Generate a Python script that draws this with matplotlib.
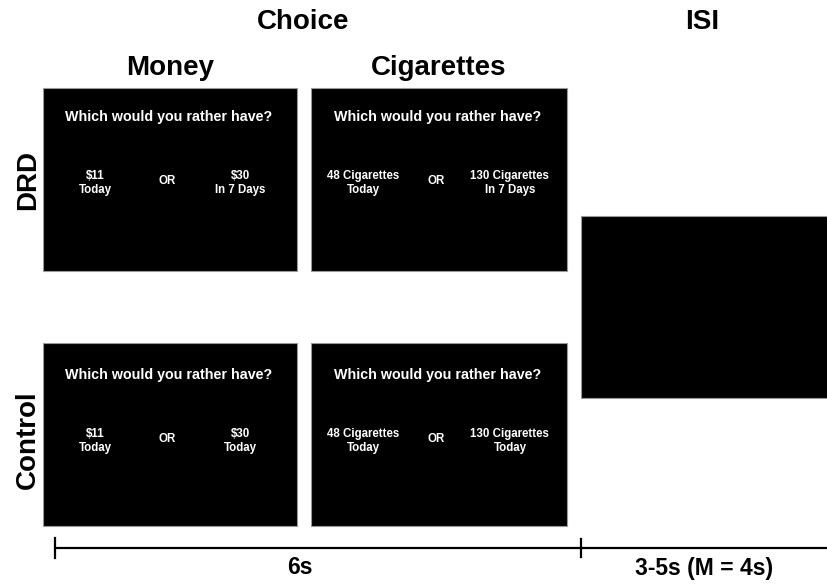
import matplotlib.pyplot as plt
from matplotlib.patches import Rectangle

plt.rcParams['font.family'] = ['Liberation Sans', 'DejaVu Sans']
plt.rcParams['font.weight'] = 'bold'

# task content
groups = ['DRD', 'Control']
commodities = ['Money', 'Cigarettes']
question = 'Which would you rather have?'
sooner = {
    'Money': '$11\nToday',
    'Cigarettes': '48 Cigarettes\nToday',
}
later = {
    ('DRD', 'Money'): '$30\nIn 7 Days',
    ('DRD', 'Cigarettes'): '130 Cigarettes\nIn 7 Days',
    ('Control', 'Money'): '$30\nToday',
    ('Control', 'Cigarettes'): '130 Cigarettes\nToday',
}
phases = ['Choice', 'ISI']
durations = ['6s', '3-5s (M = 4s)']

fig = plt.figure(figsize=(8.27, 5.85), dpi=100)
ax = fig.add_axes([0, 0, 1, 1])
ax.set_xlim(0, 827)
ax.set_ylim(585, 0)
ax.axis('off')

col_x = [43, 311]
box_w = [254, 256]
row_y = [88, 343]
box_h = 183

for ci, com in enumerate(commodities):
    ax.text(col_x[ci] + box_w[ci] / 2 + 0, 68, com, ha='center', va='center',
            fontsize=20, fontweight='bold')

for ri, grp in enumerate(groups):
    y0 = row_y[ri]
    ax.text(28, y0 + box_h / 2 + (1 if ri == 0 else 5), grp, rotation=90,
            ha='center', va='center', fontsize=20, fontweight='bold')
    for ci, com in enumerate(commodities):
        x0, w = col_x[ci], box_w[ci]
        ax.add_patch(Rectangle((x0, y0), w, box_h, facecolor='black',
                               edgecolor='#999999', linewidth=0.8))
        qy = y0 + (29 if ri == 0 else 32)
        oy = y0 + (95 if ri == 0 else 98)
        ax.text(x0 + w * 0.495, qy, question, color='white', ha='center',
                va='center', fontsize=10.3, fontweight='bold')
        ax.text(x0 + w * 0.205, oy, sooner[com], color='white', ha='center',
                va='center', fontsize=8.3, fontweight='bold', linespacing=1.25)
        ax.text(x0 + w * 0.49, oy - 2, 'OR', color='white', ha='center',
                va='center', fontsize=8.3, fontweight='bold')
        ax.text(x0 + w * 0.777, oy, later[(grp, com)], color='white',
                ha='center', va='center', fontsize=8.3, fontweight='bold',
                linespacing=1.25)

# ISI blank screen
ax.add_patch(Rectangle((581, 216), 250, 182, facecolor='black',
                       edgecolor='#999999', linewidth=0.8))

ax.text(303, 22, phases[0], ha='center', va='center', fontsize=20,
        fontweight='bold')
ax.text(702, 22, phases[1], ha='center', va='center', fontsize=20,
        fontweight='bold')

# timeline
ax.plot([55, 827], [548, 548], color='black', lw=1.6, solid_capstyle='butt')
ax.plot([55, 55], [538, 558], color='black', lw=1.6)
ax.plot([581, 581], [539, 557], color='black', lw=1.6)
ax.text(300, 567, durations[0], ha='center', va='center', fontsize=16.5,
        fontweight='bold')
ax.text(704, 569, durations[1], ha='center', va='center', fontsize=16.5,
        fontweight='bold')

fig.savefig('out.png', dpi=100)
